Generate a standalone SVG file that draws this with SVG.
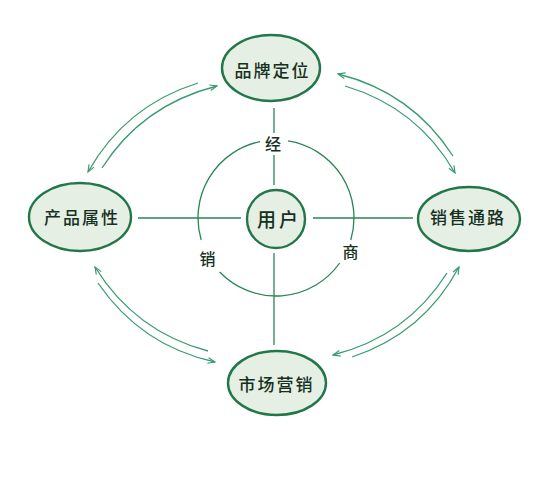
<svg xmlns="http://www.w3.org/2000/svg" width="550" height="484" viewBox="0 0 550 484">
<defs>
<style>
.node{fill:#e5efe3;stroke:#22774a;stroke-width:2.4}
.t{font-family:"Noto Sans CJK SC","Noto Sans",sans-serif;font-weight:500;fill:#16301f;text-anchor:middle;dominant-baseline:central}
.nt{font-size:17px;letter-spacing:2px}
.lbl{font-size:16px}
.ln{fill:none;stroke:#2a8656;stroke-width:1.3}
.arc{fill:none;stroke:#3a9a72;stroke-width:1.3}
</style>
<marker id="ah" viewBox="0 0 10 10" refX="9" refY="5" markerWidth="9" markerHeight="9" markerUnits="userSpaceOnUse" orient="auto-start-reverse">
<path d="M1,1.8 L9,5 L1,8.2" fill="none" stroke="#3a9a72" stroke-width="1.3"/>
</marker>
</defs>
<rect width="550" height="484" fill="#ffffff"/>
<g id="connectors">
<path class="ln" d="M274,108 V133 M274,155 V185 M274,253 V345 M138,218 H241 M313,218 H413"/>
<path class="ln" d="M287.9,140.9 A78,78 0 0 1 350.8,240 M339.7,263 A78,78 0 0 1 219.7,272 M201.2,240 A78,78 0 0 1 260,141.6"/>
<path class="arc" d="M198,83 Q125.4,105.7 88,172" marker-end="url(#ah)"/>
<path class="arc" d="M102,168 Q142,105 217,86" marker-end="url(#ah)"/>
<path class="arc" d="M338,74 Q411.8,92.2 453,156" marker-start="url(#ah)"/>
<path class="arc" d="M345,86 Q417.4,107.5 455,173" marker-end="url(#ah)"/>
<path class="arc" d="M95,267 Q134.8,331.5 208,351" marker-start="url(#ah)"/>
<path class="arc" d="M98,283 Q140.8,345.7 215,362" marker-end="url(#ah)"/>
<path class="arc" d="M447,273 Q406.4,336.7 333,355" marker-end="url(#ah)"/>
<path class="arc" d="M352,357 Q423.5,333.4 459,267" marker-end="url(#ah)"/>
<text class="t lbl" x="273" y="143">经</text>
<text class="t lbl" x="207.5" y="258">销</text>
<text class="t lbl" x="350.5" y="251">商</text>
</g>
<g id="node-user">
<circle class="node" cx="276" cy="219" r="29"/>
<text class="t" x="279" y="218" font-size="19" letter-spacing="3">用户</text>
</g>
<g id="node-brand">
<ellipse class="node" cx="271" cy="68" rx="49" ry="33"/>
<text class="t nt" x="272.5" y="69">品牌定位</text>
</g>
<g id="node-product">
<ellipse class="node" cx="80" cy="217" rx="51" ry="34"/>
<text class="t nt" x="82" y="216">产品属性</text>
</g>
<g id="node-channel">
<ellipse class="node" cx="469" cy="219" rx="51" ry="32"/>
<text class="t nt" x="468" y="216">销售通路</text>
</g>
<g id="node-market">
<ellipse class="node" cx="277" cy="383" rx="49" ry="32"/>
<text class="t nt" x="276.5" y="383">市场营销</text>
</g>
</svg>
